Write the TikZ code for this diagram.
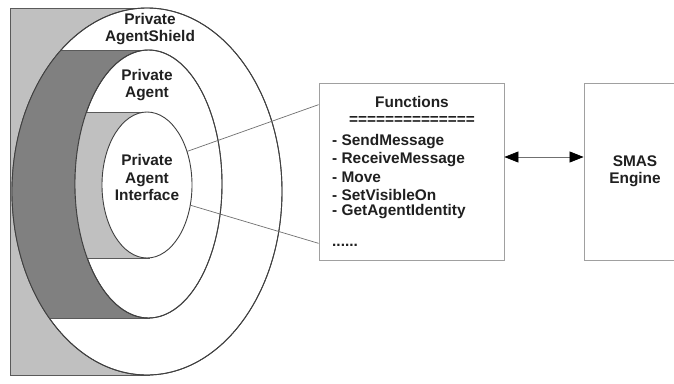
\documentclass[tikz,border=0pt]{standalone}
\usepackage{fontspec}
\setmainfont{Liberation Sans}
\usetikzlibrary{shapes.geometric,arrows.meta,calc}
\definecolor{lg}{HTML}{C0C0C0}
\definecolor{dg}{HTML}{808080}
\definecolor{edge}{HTML}{404040}
\definecolor{boxedge}{HTML}{A0A0A0}
\definecolor{conn}{HTML}{707070}
\definecolor{txt}{HTML}{202020}
\begin{document}
\begin{tikzpicture}[x=1pt,y=-1pt,
  font=\fontsize{15.4}{17.5}\selectfont\bfseries,
  layer/.style={ellipse, draw=edge, line width=0.9pt, fill=white, inner sep=0pt, outer sep=0pt},
  ringline/.style={draw=edge, line width=0.9pt},
  cutline/.style={draw=dg!70!black, line width=0.8pt},
  lbl/.style={align=center, inner sep=0pt, text=txt},
  boxn/.style={draw=boxedge, line width=0.8pt, fill=white, inner sep=0pt, text=txt, align=center},
  connector/.style={draw=conn, line width=0.7pt}]
\useasboundingbox (0,0) rectangle (674,383);
\fill[white] (0,0) rectangle (674,383);
% outer cut-away (light grey)
\fill[lg] (10,8) rectangle (150,375);
\draw[cutline] (150,8) -- (10,8) -- (10,375) -- (150,375);
\node[layer, minimum width=270pt, minimum height=367pt] (shield) at (147,191.5) {};
% dark grey cut-away inside the shield
\begin{scope}
  \clip (147,191.5) ellipse [x radius=135pt, y radius=183.5pt];
  \fill[dg] (0,50) rectangle (150,318);
  \draw[cutline] (0,50) -- (150,50) (0,318) -- (150,318);
\end{scope}
\draw[ringline] (147,191.5) ellipse [x radius=135pt, y radius=183.5pt];
\node[layer, minimum width=147pt, minimum height=268pt] (agent) at (148.5,184) {};
% light grey cut-away inside the agent
\begin{scope}
  \clip (148.5,184) ellipse [x radius=73.5pt, y radius=134pt];
  \fill[lg] (0,112) rectangle (150,258);
  \draw[cutline] (0,112) -- (150,112) (0,258) -- (150,258);
\end{scope}
\draw[ringline] (148.5,184) ellipse [x radius=73.5pt, y radius=134pt];
\node[layer, minimum width=90pt, minimum height=146pt] (pai) at (147,185) {};
% labels
\node[lbl] (lshield) at (150,29) {Private\\AgentShield};
\node[lbl] (lagent) at (147,85) {Private\\Agent};
\node[lbl] (lpai) at (147,177.5) {Private\\Agent\\Interface};
% boxes
\node[boxn, minimum width=185pt, minimum height=177pt] (fn) at (411.5,171.5) {};
\node[boxn, minimum width=102pt, minimum height=177pt] (smas) at (635,171.5) {SMAS\\Engine};
% Functions text
\node[lbl] (fnt) at (412,102) {Functions};
\node[lbl] (fneq) at (412,120) {==============};
\node[lbl, anchor=west] (f1) at (332,142) {- SendMessage};
\node[lbl, anchor=west] (f2) at (332,159.5) {- ReceiveMessage};
\node[lbl, anchor=west] (f3) at (332,177) {- Move};
\node[lbl, anchor=west] (f4) at (332,194.5) {- SetVisibleOn};
\node[lbl, anchor=west] (f5) at (332,212) {- GetAgentIdentity};
\node[lbl, anchor=base west] (f6) at (332,246) {......};
% connectors
\draw[connector] (pai.40) -- ($(fn.north west)!0.124!(fn.south west)$);
\draw[connector] (pai.-25) -- ($(fn.north west)!0.904!(fn.south west)$);
\coordinate (ay) at (0,157);
\draw[connector, {Triangle[length=14pt,width=11pt,color=black]}-{Triangle[length=14pt,width=11pt,color=black]}]
  (fn.east |- ay) -- (smas.west |- ay);
\end{tikzpicture}
\end{document}
